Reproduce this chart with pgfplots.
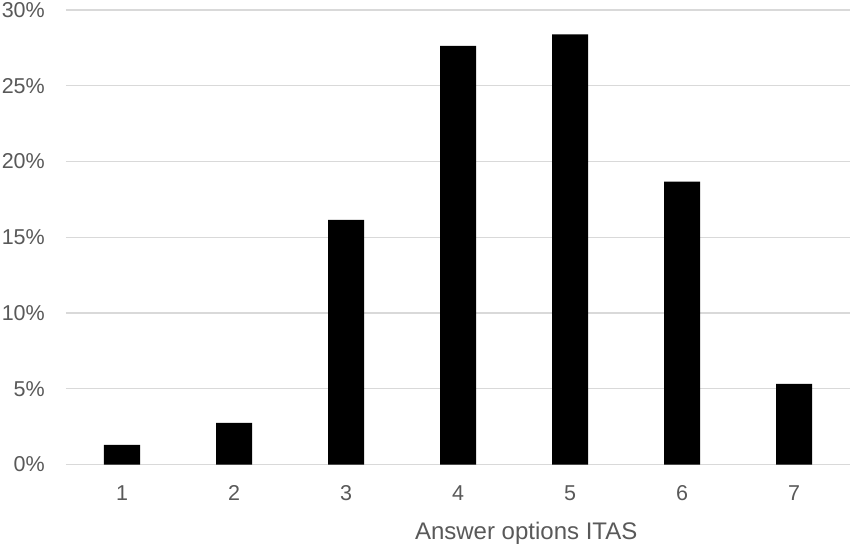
\documentclass[border=0pt]{standalone}
\usepackage{pgfplots}
\pgfplotsset{compat=1.18}
\usepackage{fontspec}
\setmainfont{Liberation Sans}
\definecolor{txt}{HTML}{595959}
\definecolor{grd}{HTML}{D9D9D9}
\begin{document}
\begin{tikzpicture}
\begin{axis}[
name=ax,
scale only axis,
width=784pt, height=454.5pt,
xmin=0.5, xmax=7.5, ymin=0, ymax=30,
axis line style={draw=none},
xtick={1,...,7}, ytick={0,5,...,30},
major tick length=0pt,
ymajorgrids=true,
grid style={grd, line width=1.3pt},
yticklabel={\pgfmathprintnumber{\tick}\%},
/pgf/number format/assume math mode=true,
tick label style={font=\fontsize{21.5}{24}\selectfont, text=txt, inner sep=0pt},
yticklabel style={anchor=east, xshift=-21pt},
xticklabel style={anchor=base, yshift=-35.5pt},
xlabel={Answer options ITAS},
xlabel style={font=\fontsize{24}{27}\selectfont, text=txt, inner sep=0pt,
  at={(rel axis cs:0.587,0)}, anchor=base, yshift=-75pt},
]
\addplot[ybar, bar width=36pt, fill=black, draw=none] coordinates {
(1,1.29) (2,2.74) (3,16.15) (4,27.64) (5,28.39) (6,18.68) (7,5.32)};
\end{axis}
\pgfresetboundingbox
\path ([shift={(-66pt,-85.5pt)}]ax.south west) rectangle ([shift={(1pt,10pt)}]ax.north east);
\end{tikzpicture}
\end{document}
